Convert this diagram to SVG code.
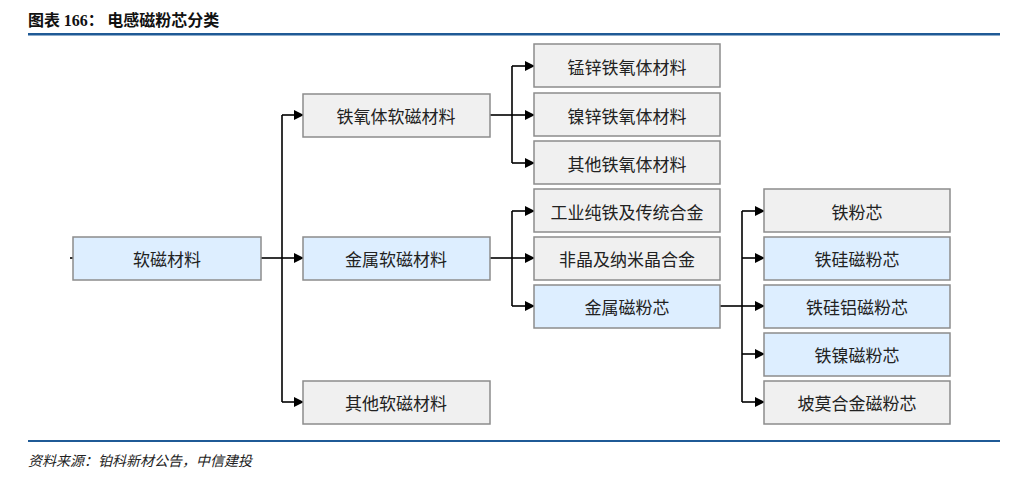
<svg xmlns="http://www.w3.org/2000/svg" width="1017" height="487" viewBox="0 0 1017 487">
<defs>
<style>
text{font-family:"Noto Sans CJK SC","Noto Sans",sans-serif;}
.g rect{fill:#f0f0f0;stroke:#8c8c8c;stroke-width:1.5}
.b rect{fill:#ddeeff;stroke:#8c8c8c;stroke-width:1.5}
.n text{font-size:17px;fill:#222;text-anchor:middle;dominant-baseline:central}
#conn path{fill:none;stroke:#000;stroke-width:1.6}
</style>
<marker id="a" markerWidth="10" markerHeight="10" refX="9" refY="5" orient="auto" markerUnits="userSpaceOnUse"><path d="M0,0L10,5L0,10z" fill="#000"/></marker>
</defs>
<rect width="1017" height="487" fill="#fff"/>
<text x="28" y="26" font-size="16" font-weight="bold" fill="#111">图表 <tspan font-family="Liberation Serif,serif">166</tspan>：   电感磁粉芯分类</text>
<rect x="28" y="33" width="972" height="2.5" fill="#1f5a96"/>
<rect x="28" y="440" width="972" height="2" fill="#1f5a96"/>
<text x="28" y="466" font-size="14" font-style="italic" fill="#222">资料来源：铂科新材公告，中信建投</text>
<g id="conn">
<path d="M70,258H73"/>
<path d="M261,258H282"/>
<path d="M282,115V402"/>
<path d="M282,115H303" marker-end="url(#a)"/>
<path d="M282,258H303" marker-end="url(#a)"/>
<path d="M282,402H303" marker-end="url(#a)"/>
<path d="M490,115H512"/>
<path d="M512,66V163"/>
<path d="M512,66H534" marker-end="url(#a)"/>
<path d="M512,115H534" marker-end="url(#a)"/>
<path d="M512,163H534" marker-end="url(#a)"/>
<path d="M490,258H512"/>
<path d="M512,211V306"/>
<path d="M512,211H534" marker-end="url(#a)"/>
<path d="M512,258H534" marker-end="url(#a)"/>
<path d="M512,306H534" marker-end="url(#a)"/>
<path d="M720,306H742"/>
<path d="M742,211V402"/>
<path d="M742,211H764" marker-end="url(#a)"/>
<path d="M742,258H764" marker-end="url(#a)"/>
<path d="M742,306H764" marker-end="url(#a)"/>
<path d="M742,354H764" marker-end="url(#a)"/>
<path d="M742,402H764" marker-end="url(#a)"/>
</g>
<g id="root" class="n b"><rect x="73" y="237" width="188" height="43"/><text x="167" y="258">软磁材料</text></g>
<g id="ferrite" class="n g"><rect x="303" y="94" width="187" height="43"/><text x="396" y="115">铁氧体软磁材料</text></g>
<g id="metal" class="n b"><rect x="303" y="237" width="187" height="43"/><text x="396" y="258">金属软磁材料</text></g>
<g id="other" class="n g"><rect x="303" y="381" width="187" height="43"/><text x="396" y="402">其他软磁材料</text></g>
<g id="mnzn" class="n g"><rect x="534" y="44" width="186" height="43"/><text x="627" y="66">锰锌铁氧体材料</text></g>
<g id="nizn" class="n g"><rect x="534" y="93" width="186" height="43"/><text x="627" y="115">镍锌铁氧体材料</text></g>
<g id="otherferrite" class="n g"><rect x="534" y="141" width="186" height="43"/><text x="627" y="163">其他铁氧体材料</text></g>
<g id="pureiron" class="n g"><rect x="534" y="189" width="186" height="43"/><text x="627" y="211">工业纯铁及传统合金</text></g>
<g id="amorphous" class="n g"><rect x="534" y="237" width="186" height="43"/><text x="627" y="258">非晶及纳米晶合金</text></g>
<g id="powder" class="n b"><rect x="534" y="285" width="186" height="43"/><text x="627" y="306">金属磁粉芯</text></g>
<g id="fe" class="n g"><rect x="764" y="189" width="186" height="43"/><text x="857" y="211">铁粉芯</text></g>
<g id="fesi" class="n b"><rect x="764" y="237" width="186" height="43"/><text x="857" y="258">铁硅磁粉芯</text></g>
<g id="fesial" class="n b"><rect x="764" y="285" width="186" height="43"/><text x="857" y="306">铁硅铝磁粉芯</text></g>
<g id="feni" class="n b"><rect x="764" y="333" width="186" height="43"/><text x="857" y="354">铁镍磁粉芯</text></g>
<g id="permalloy" class="n g"><rect x="764" y="381" width="186" height="43"/><text x="857" y="402">坡莫合金磁粉芯</text></g>
</svg>
